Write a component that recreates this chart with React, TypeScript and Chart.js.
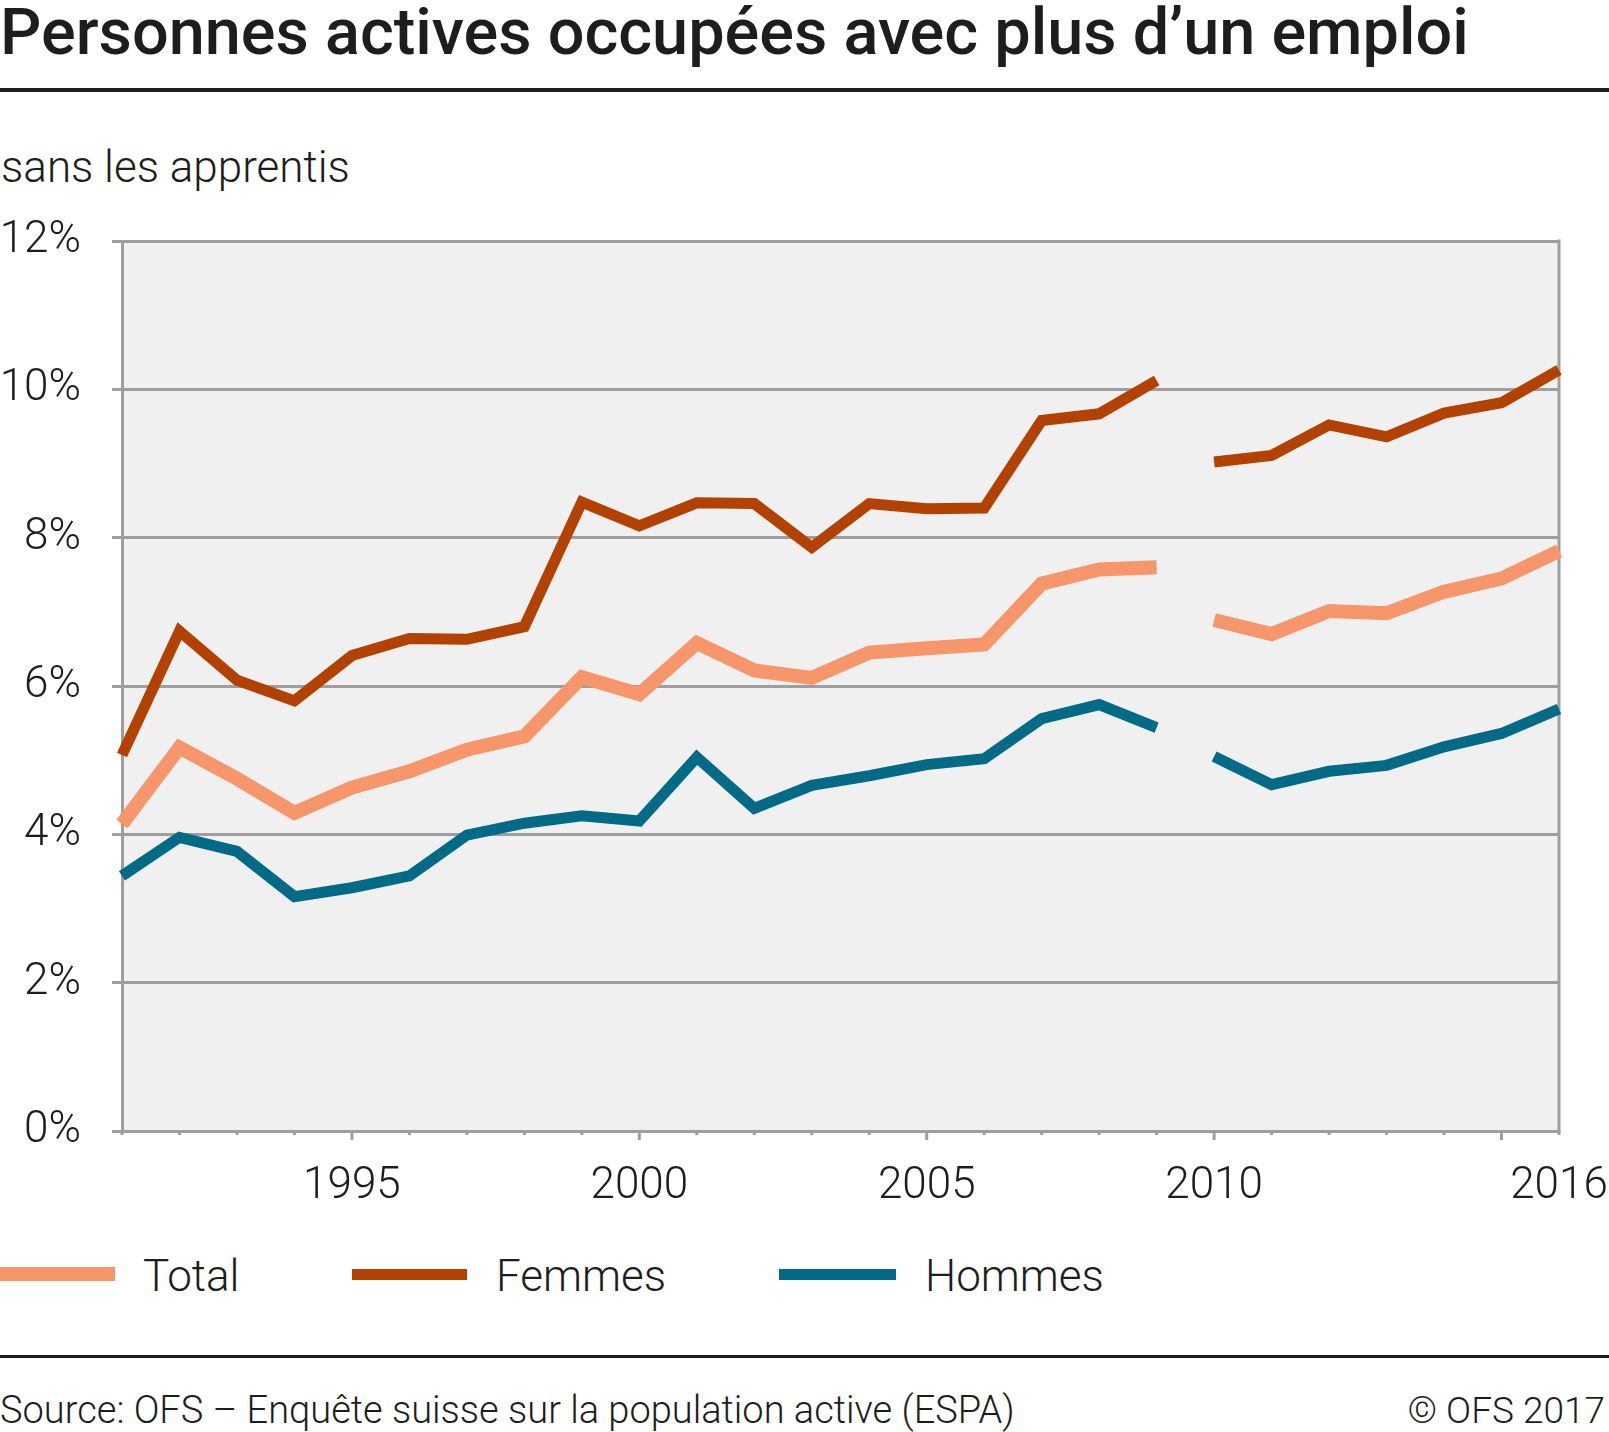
import React, { useEffect, useRef } from 'react';
import { Chart, registerables } from 'chart.js';

Chart.register(...registerables);

const years = [1991, 1992, 1993, 1994, 1995, 1996, 1997, 1998, 1999, 2000, 2001, 2002, 2003, 2004, 2005, 2006, 2007, 2008, 2009, 2010, 2011, 2012, 2013, 2014, 2015, 2016];
const totalValues = [4.14, 5.17, 4.75, 4.29, 4.63, 4.85, 5.14, 5.32, 6.12, 5.89, 6.58, 6.21, 6.11, 6.45, 6.51, 6.56, 7.38, 7.57, 7.6, 6.89, 6.7, 7.01, 6.98, 7.27, 7.45, 7.82];
const femmesValues = [5.07, 6.74, 6.08, 5.8, 6.41, 6.64, 6.63, 6.8, 8.48, 8.16, 8.47, 8.46, 7.87, 8.46, 8.39, 8.4, 9.58, 9.67, 10.12, 9.02, 9.11, 9.52, 9.36, 9.68, 9.82, 10.26];
const hommesValues = [3.44, 3.96, 3.77, 3.16, 3.28, 3.44, 3.99, 4.15, 4.25, 4.18, 5.04, 4.35, 4.66, 4.79, 4.94, 5.02, 5.56, 5.75, 5.44, 5.05, 4.67, 4.85, 4.93, 5.18, 5.36, 5.69];
const seriesNames = ['Total', 'Femmes', 'Hommes'];
const seriesColors = ['#f7966a', '#b34200', '#006a87'];
const seriesWidths = [14, 11, 11];
const labelYears = [1995, 2000, 2005, 2010, 2016];
const majorTickYears = [1995, 2000, 2005, 2010, 2015];
const breakAfterYear = 2009;
const yMin = 0;
const yMax = 12;
const yStep = 2;

const FONT = 'Roboto, "Noto Sans", "DejaVu Sans", sans-serif';
const GRID = '#9e9e9e';
const TEXT = '#1d1d1b';

export default function App() {
  const ref = useRef<HTMLCanvasElement | null>(null);

  useEffect(() => {
    const canvas = ref.current;
    if (!canvas) return;
    const gapIdx = years.indexOf(breakAfterYear);
    const series = [totalValues, femmesValues, hommesValues];

    const framePlugin = {
      id: 'frame',
      beforeDraw(chart: any) {
        const { ctx, chartArea: a } = chart;
        ctx.save();
        ctx.fillStyle = '#f0f0f0';
        ctx.fillRect(a.left, a.top, a.right - a.left, a.bottom - a.top);
        ctx.restore();
      },
      beforeDatasetsDraw(chart: any) {
        const { ctx, chartArea: a } = chart;
        ctx.save();
        ctx.strokeStyle = GRID;
        ctx.lineWidth = 3;
        ctx.beginPath();
        ctx.moveTo(a.right, a.top - 1.5);
        ctx.lineTo(a.right, a.bottom + 1.5);
        ctx.stroke();
        ctx.restore();
      },
      afterDraw(chart: any) {
        const { ctx, chartArea: a } = chart;
        const xs = chart.scales.x;
        ctx.save();
        ctx.strokeStyle = GRID;
        ctx.lineWidth = 3;
        years.forEach((yr, i) => {
          const px = xs.getPixelForValue(i);
          const len = majorTickYears.includes(yr) ? 9 : 4;
          ctx.beginPath();
          ctx.moveTo(px, a.bottom);
          ctx.lineTo(px, a.bottom + len);
          ctx.stroke();
        });
        ctx.restore();
      },
    };

    const chart = new Chart(canvas, {
      type: 'line',
      data: {
        labels: years.map(String),
        datasets: series.map((vals, k) => ({
          label: seriesNames[k],
          data: vals,
          borderColor: seriesColors[k],
          backgroundColor: seriesColors[k],
          borderWidth: seriesWidths[k],
          borderJoinStyle: 'miter' as const,
          borderCapStyle: 'butt' as const,
          pointRadius: 0,
          tension: 0,
          fill: false,
          segment: {
            borderColor: (ctx: any) => (ctx.p0DataIndex === gapIdx ? 'rgba(0,0,0,0)' : undefined),
          },
        })),
      },
      options: {
        responsive: false,
        animation: false,
        events: [],
        layout: { padding: { left: 0, right: 50, top: 41, bottom: 0 } },
        plugins: {
          legend: { display: false },
          tooltip: { enabled: false },
          title: { display: false },
        },
        scales: {
          x: {
            type: 'category',
            offset: false,
            grid: { display: false, drawTicks: false },
            border: { display: true, color: GRID, width: 3 },
            ticks: {
              autoSkip: false,
              maxRotation: 0,
              minRotation: 0,
              padding: 30,
              color: TEXT,
              font: { family: FONT, size: 44, weight: '300' as any },
              callback: (_v: any, i: number) => (labelYears.includes(years[i]) ? String(years[i]) : ''),
            },
            afterFit: (s: any) => {
              s.height = 89;
              s.paddingLeft = 0;
              s.paddingRight = 0;
            },
          },
          y: {
            min: yMin,
            max: yMax,
            grid: { color: GRID, lineWidth: 3, tickLength: 10, drawTicks: true, tickColor: GRID, tickWidth: 3 },
            border: { display: true, color: GRID, width: 3 },
            ticks: {
              stepSize: yStep,
              padding: 31,
              color: TEXT,
              font: { family: FONT, size: 44, weight: '300' as any },
              callback: (v: any) => `${v}%`,
            },
            afterFit: (s: any) => {
              s.width = 122;
              s.paddingTop = 0;
              s.paddingBottom = 0;
            },
          },
        },
      },
      plugins: [framePlugin],
    } as any);

    return () => chart.destroy();
  }, []);

  const legendItems = [
    { sx: 0, sw: 115, tx: 143 },
    { sx: 352, sw: 115, tx: 496 },
    { sx: 779, sw: 117, tx: 925 },
  ];

  return (
    <div style={{ position: 'absolute', left: 0, top: 0, width: 1609, height: 1432, background: '#fff', fontFamily: FONT, color: TEXT, overflow: 'hidden' }}>
      <div style={{ position: 'absolute', left: 0, top: 0, fontSize: 64.8, lineHeight: '64.8px', fontWeight: 500, whiteSpace: 'nowrap' }}>
        Personnes actives occupées avec plus d’un emploi
      </div>
      <div style={{ position: 'absolute', left: 0, top: 88, width: 1609, height: 4, background: TEXT }} />
      <div style={{ position: 'absolute', left: 1, top: 145, fontSize: 44, lineHeight: '44px', fontWeight: 300, whiteSpace: 'nowrap' }}>
        sans les apprentis
      </div>
      <canvas ref={ref} width={1609} height={1020} style={{ position: 'absolute', left: 0, top: 200, width: 1609, height: 1020, display: 'block' }} />
      {seriesNames.map((name, k) => (
        <React.Fragment key={name}>
          <div
            style={{
              position: 'absolute',
              left: legendItems[k].sx,
              top: 1274 - seriesWidths[k] / 2,
              width: legendItems[k].sw,
              height: seriesWidths[k],
              background: seriesColors[k],
            }}
          />
          <div style={{ position: 'absolute', left: legendItems[k].tx, top: 1254, fontSize: 44, lineHeight: '44px', fontWeight: 300, whiteSpace: 'nowrap' }}>
            {name}
          </div>
        </React.Fragment>
      ))}
      <div style={{ position: 'absolute', left: 0, top: 1355, width: 1609, height: 3, background: TEXT }} />
      <div style={{ position: 'absolute', left: 0, top: 1391, fontSize: 38, lineHeight: '38px', fontWeight: 300, whiteSpace: 'nowrap' }}>
        Source: OFS – Enquête suisse sur la population active (ESPA)
      </div>
      <div style={{ position: 'absolute', right: 4, top: 1392, fontSize: 37, lineHeight: '37px', fontWeight: 300, whiteSpace: 'nowrap' }}>
        © OFS 2017
      </div>
    </div>
  );
}
